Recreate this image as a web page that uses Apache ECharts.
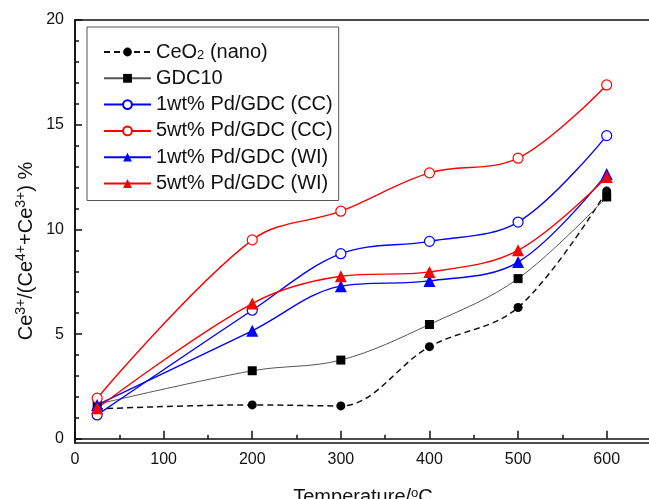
<!DOCTYPE html>
<html>
<head>
<meta charset="utf-8">
<script src="https://cdn.jsdelivr.net/npm/echarts@6/dist/echarts.min.js"></script>
<style>html,body{margin:0;padding:0;background:#fff}#c{width:649px;height:499px}</style>
</head>
<body>
<div id="c"></div>
<script>
const temps = [25, 200, 300, 400, 500, 600];
const ceo2Nano = [1.43, 1.62, 1.57, 4.40, 6.27, 11.83];
const gdc10 = [1.65, 3.25, 3.76, 5.46, 7.65, 11.55];
const pd1CC = [1.14, 6.14, 8.84, 9.43, 10.35, 14.48];
const pd5CC = [1.94, 9.50, 10.87, 12.70, 13.40, 16.90];
const pd1WI = [1.62, 5.16, 7.29, 7.54, 8.44, 12.65];
const pd5WI = [1.46, 6.46, 7.76, 7.97, 9.00, 12.50];
const seriesNames = ['CeO2 (nano)', 'GDC10', '1wt% Pd/GDC (CC)', '5wt% Pd/GDC (CC)', '1wt% Pd/GDC (WI)', '5wt% Pd/GDC (WI)'];
const xTickLabels = [0, 100, 200, 300, 400, 500, 600];
const xMinorTicks = [50, 150, 250, 350, 450, 550, 650];
const yTickLabels = [0, 5, 10, 15, 20];
const yMinorTicks = [1, 2, 3, 4, 6, 7, 8, 9, 11, 12, 13, 14, 16, 17, 18, 19];

const FONT = "'Liberation Sans', Arial, sans-serif";
const pairs = arr => temps.map((t, i) => [t, arr[i]]);
const RED = '#ff0000', BLUE = '#0000ff';

function mk(name, data, color, lineStyle, symbol, size, itemStyle) {
  return {
    name, type: 'line', data: pairs(data), smooth: 0.35,
    symbol, symbolSize: size, showSymbol: true,
    lineStyle: Object.assign({ color: color, width: 1.4 }, lineStyle),
    itemStyle: itemStyle, emphasis: { disabled: true }, animation: false
  };
}

const chart = echarts.init(document.getElementById('c'), null, { renderer: 'canvas' });
const axisLineStyle = { color: '#111', width: 1.6 };
chart.setOption({
  animation: false,
  textStyle: { fontFamily: FONT },
  grid: { left: 75, top: 20, width: 576, height: 423, show: true, borderColor: '#111', borderWidth: 1.6, containLabel: false, outerBoundsMode: 'none' },
  xAxis: [{
    type: 'value', min: 0, max: 650, position: 'bottom',
    axisLine: { show: true, lineStyle: axisLineStyle },
    axisTick: { show: true, inside: true, length: 8, lineStyle: { color: '#111', width: 1.5 }, customValues: xTickLabels },
    axisLabel: { show: true, customValues: xTickLabels, fontSize: 16, color: '#111', margin: 9, fontFamily: FONT },
    splitLine: { show: false },
    name: 'Temperature/{s|o}C', nameLocation: 'middle', nameGap: 44,
    nameTextStyle: { fontSize: 20, color: '#111', fontFamily: FONT, rich: { s: { fontSize: 13, verticalAlign: 'top', lineHeight: 13, fontFamily: FONT, color: '#111' } } }
  }, {
    type: 'value', min: 0, max: 650, position: 'bottom',
    axisLine: { show: false },
    axisTick: { show: true, inside: true, length: 4, lineStyle: { color: '#111', width: 1.5 }, customValues: xMinorTicks },
    axisLabel: { show: false }, splitLine: { show: false }
  }],
  yAxis: [{
    type: 'value', min: -0.2, max: 20, position: 'left',
    axisLine: { show: true, lineStyle: axisLineStyle },
    axisTick: { show: true, inside: true, length: 7, lineStyle: { color: '#111', width: 1.5 }, customValues: yTickLabels },
    axisLabel: { show: true, customValues: yTickLabels, fontSize: 16, color: '#111', margin: 11, fontFamily: FONT },
    splitLine: { show: false }
  }, {
    type: 'value', min: -0.2, max: 20, position: 'left',
    axisLine: { show: false },
    axisTick: { show: true, inside: true, length: 4, lineStyle: { color: '#111', width: 1.5 }, customValues: yMinorTicks },
    axisLabel: { show: false }, splitLine: { show: false }
  }],
  legend: {
    orient: 'vertical', left: 87, top: 27,
    padding: [15, 6, 7, 16],
    borderColor: '#555', borderWidth: 1,
    itemWidth: 47, itemHeight: 11, itemGap: 6.3,
    selectedMode: false,
    data: seriesNames,
    formatter: function (name) {
      if (name === 'CeO2 (nano)') return '{a|CeO}{s|2}{a| (nano)}';
      return '{a|' + name + '}';
    },
    textStyle: {
      fontSize: 20, color: '#111', fontFamily: FONT,
      rich: {
        a: { fontSize: 20, lineHeight: 20, color: '#111', fontFamily: FONT },
        s: { fontSize: 13, lineHeight: 13, verticalAlign: 'bottom', padding: [6, 0, 0, 0], color: '#111', fontFamily: FONT }
      }
    }
  },
  graphic: [{
    type: 'text', x: 26, y: 251, rotation: Math.PI / 2,
    style: {
      text: '{n|Ce}{p|3+}{n|/(Ce}{p|4+}{n|+Ce}{p|3+}{n|) %}',
      align: 'center', verticalAlign: 'middle', fill: '#111', font: '20px ' + FONT,
      rich: {
        n: { fontSize: 20, lineHeight: 24, fontFamily: FONT, fill: '#111', color: '#111' },
        p: { fontSize: 14, lineHeight: 14, verticalAlign: 'top', fontFamily: FONT, fill: '#111', color: '#111' }
      }
    }
  }],
  series: [
    mk(seriesNames[0], ceo2Nano, '#111', { type: [6, 4], width: 1.5 }, 'circle', 9, { color: '#000' }),
    mk(seriesNames[1], gdc10, '#555', { width: 1 }, 'rect', 9, { color: '#000' }),
    mk(seriesNames[2], pd1CC, BLUE, {}, 'circle', 10, { color: '#fff', borderColor: BLUE, borderWidth: 1.2 }),
    mk(seriesNames[3], pd5CC, RED, {}, 'circle', 10, { color: '#fff', borderColor: RED, borderWidth: 1.2 }),
    mk(seriesNames[4], pd1WI, BLUE, {}, 'triangle', 12, { color: BLUE }),
    mk(seriesNames[5], pd5WI, RED, {}, 'triangle', 12, { color: RED })
  ]
});
</script>
</body>
</html>
